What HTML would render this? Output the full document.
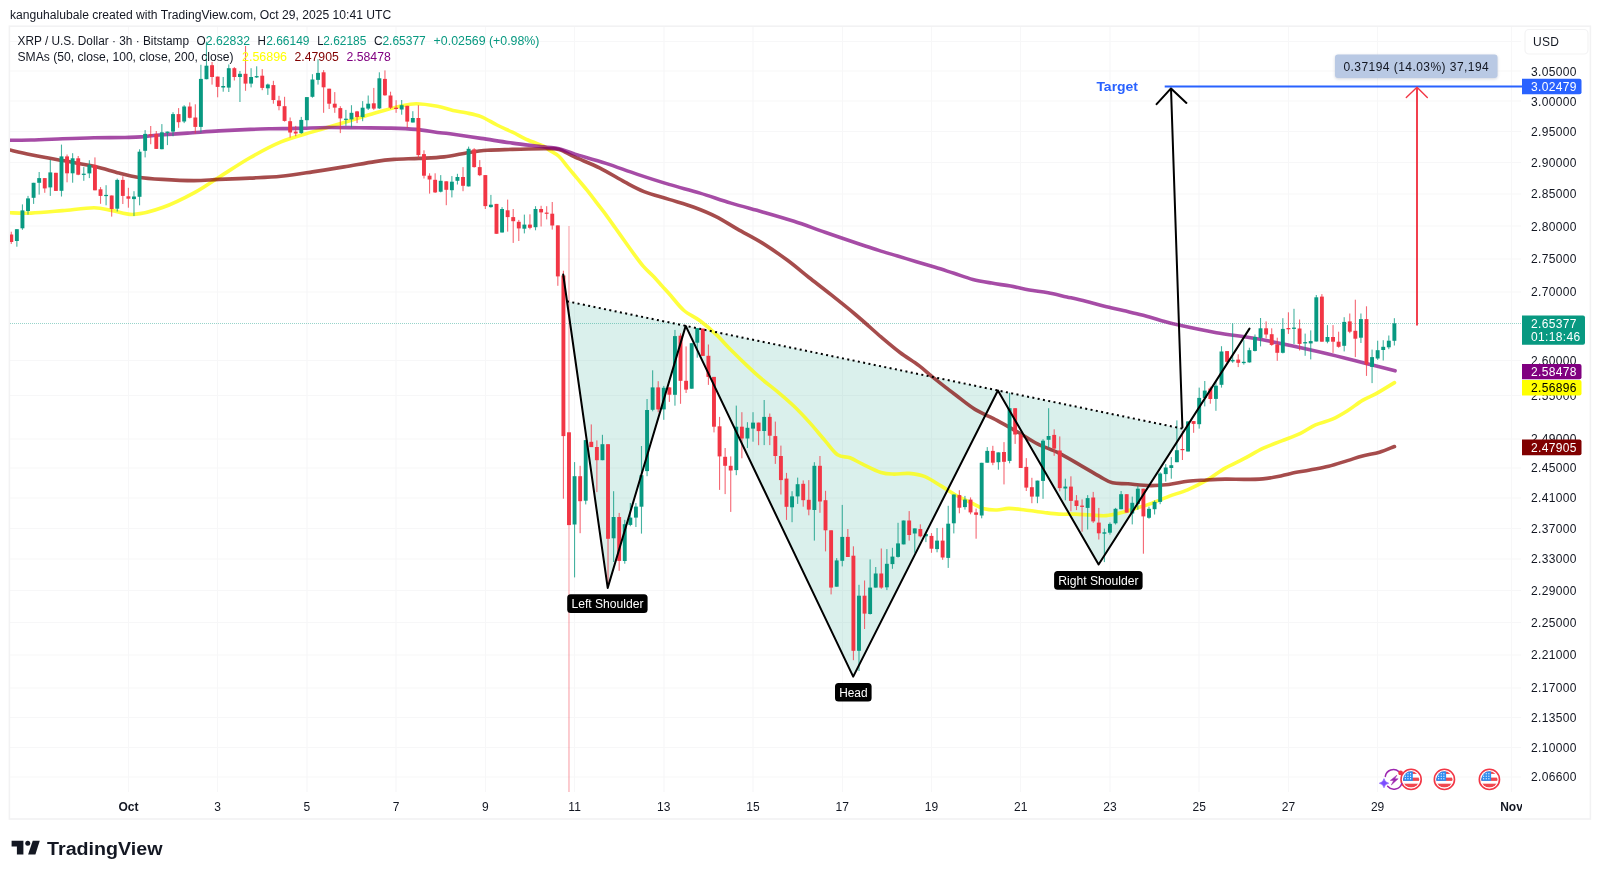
<!DOCTYPE html>
<html><head><meta charset="utf-8"><title>XRP / U.S. Dollar</title>
<style>
html,body{margin:0;padding:0;background:#fff;}
body{width:1600px;height:877px;overflow:hidden;position:relative;font-family:"Liberation Sans",sans-serif;}
svg{position:absolute;left:0;top:0;will-change:transform;}
text{font-family:"Liberation Sans",sans-serif;}
</style></head><body>
<svg width="1600" height="877" viewBox="0 0 1600 877">

<g stroke="#f7f7f8" stroke-width="1.2">
<line x1="10" y1="41.5" x2="1521" y2="41.5"/>
<line x1="10" y1="71.0" x2="1521" y2="71.0"/>
<line x1="10" y1="101.0" x2="1521" y2="101.0"/>
<line x1="10" y1="131.5" x2="1521" y2="131.5"/>
<line x1="10" y1="162.5" x2="1521" y2="162.5"/>
<line x1="10" y1="194.0" x2="1521" y2="194.0"/>
<line x1="10" y1="226.0" x2="1521" y2="226.0"/>
<line x1="10" y1="259.0" x2="1521" y2="259.0"/>
<line x1="10" y1="292.0" x2="1521" y2="292.0"/>
<line x1="10" y1="360.5" x2="1521" y2="360.5"/>
<line x1="10" y1="395.5" x2="1521" y2="395.5"/>
<line x1="10" y1="439.0" x2="1521" y2="439.0"/>
<line x1="10" y1="468.0" x2="1521" y2="468.0"/>
<line x1="10" y1="498.0" x2="1521" y2="498.0"/>
<line x1="10" y1="528.5" x2="1521" y2="528.5"/>
<line x1="10" y1="559.0" x2="1521" y2="559.0"/>
<line x1="10" y1="590.5" x2="1521" y2="590.5"/>
<line x1="10" y1="622.5" x2="1521" y2="622.5"/>
<line x1="10" y1="655.0" x2="1521" y2="655.0"/>
<line x1="10" y1="688.0" x2="1521" y2="688.0"/>
<line x1="10" y1="717.5" x2="1521" y2="717.5"/>
<line x1="10" y1="747.5" x2="1521" y2="747.5"/>
<line x1="10" y1="777.0" x2="1521" y2="777.0"/>
<line x1="128.5" y1="27" x2="128.5" y2="792"/>
<line x1="217.5" y1="27" x2="217.5" y2="792"/>
<line x1="307.0" y1="27" x2="307.0" y2="792"/>
<line x1="396.0" y1="27" x2="396.0" y2="792"/>
<line x1="485.5" y1="27" x2="485.5" y2="792"/>
<line x1="574.5" y1="27" x2="574.5" y2="792"/>
<line x1="664.0" y1="27" x2="664.0" y2="792"/>
<line x1="753.0" y1="27" x2="753.0" y2="792"/>
<line x1="842.5" y1="27" x2="842.5" y2="792"/>
<line x1="931.5" y1="27" x2="931.5" y2="792"/>
<line x1="1020.5" y1="27" x2="1020.5" y2="792"/>
<line x1="1110.0" y1="27" x2="1110.0" y2="792"/>
<line x1="1199.0" y1="27" x2="1199.0" y2="792"/>
<line x1="1288.5" y1="27" x2="1288.5" y2="792"/>
<line x1="1377.5" y1="27" x2="1377.5" y2="792"/>
<line x1="1511.5" y1="27" x2="1511.5" y2="792"/>
</g>
<rect x="9.4" y="26.2" width="1581" height="792.8" fill="none" stroke="#f2f2f3" stroke-width="1.6"/>
<polygon points="567.0,301.3 607.7,587.9 685.7,325.9 853.2,676.6 997.9,390.5 1098.6,564.5 1185.1,429.2" fill="#089981" fill-opacity="0.15"/>
<line x1="10" y1="323.5" x2="1521" y2="323.5" stroke="#089981" stroke-opacity="0.42" stroke-width="1" stroke-dasharray="1 1"/>
<clipPath id="plot"><rect x="10" y="27" width="1512" height="765"/></clipPath>
<path d="M10.0,212.8C13.5,212.9 22.2,213.5 31.0,213.1C39.8,212.7 52.0,211.5 62.5,210.6C73.0,209.7 85.7,207.8 94.0,207.8C102.3,207.8 105.8,209.5 112.5,210.6C119.2,211.7 125.7,214.9 134.0,214.4C142.3,213.9 152.5,211.1 162.5,207.5C172.5,203.9 184.6,197.9 194.0,192.8C203.4,187.8 209.7,183.0 219.0,177.2C228.3,171.4 239.7,163.7 250.0,157.8C260.3,151.9 270.6,146.2 281.0,141.9C291.4,137.6 302.0,135.1 312.5,131.9C323.0,128.7 333.6,125.6 344.0,122.5C354.4,119.4 365.7,115.8 375.0,113.1C384.3,110.4 393.2,107.8 400.0,106.3C406.8,104.8 409.8,103.8 416.0,103.8C422.2,103.8 431.3,105.2 437.5,106.3C443.7,107.4 448.2,109.4 453.0,110.5C457.8,111.6 461.3,111.8 466.0,112.8C470.7,113.8 475.8,114.6 481.0,116.6C486.2,118.6 491.8,122.4 497.0,125.0C502.2,127.6 507.3,129.7 512.5,132.2C517.7,134.7 522.8,137.7 528.0,140.0C533.2,142.3 540.4,144.6 544.0,146.3C547.6,148.0 546.9,148.5 549.4,150.2C551.9,151.9 555.7,153.4 558.8,156.3C561.9,159.2 565.1,163.8 568.2,167.6C571.3,171.4 574.5,175.1 577.6,178.9C580.7,182.7 583.9,186.3 587.0,190.2C590.1,194.1 593.3,198.3 596.4,202.4C599.5,206.5 602.7,210.4 605.8,214.6C608.9,218.8 612.1,223.4 615.2,227.8C618.3,232.2 621.5,236.6 624.6,241.0C627.7,245.4 630.9,249.9 634.0,254.1C637.1,258.3 640.3,262.8 643.4,266.4C646.5,270.0 649.7,272.5 652.8,275.8C655.9,279.1 659.2,282.8 662.2,286.1C665.2,289.4 667.1,291.4 670.7,295.5C674.3,299.6 679.1,306.3 684.0,310.5C688.9,314.7 694.7,316.8 700.0,320.8C705.3,324.8 710.8,329.5 716.0,334.4C721.2,339.3 725.8,344.8 731.0,350.0C736.2,355.2 741.8,360.7 747.0,365.6C752.2,370.6 757.3,375.3 762.5,379.7C767.7,384.1 772.8,387.8 778.0,392.2C783.2,396.6 788.8,401.4 794.0,406.3C799.2,411.2 803.8,416.2 809.0,421.9C814.2,427.6 820.2,435.1 825.0,440.6C829.8,446.1 833.3,451.8 837.5,454.7C841.7,457.6 845.8,456.2 850.0,457.8C854.2,459.4 857.3,461.7 862.5,464.1C867.7,466.6 875.8,470.8 881.0,472.5C886.2,474.2 889.3,474.0 894.0,474.1C898.7,474.2 903.8,473.0 909.0,473.4C914.2,473.8 919.7,474.5 925.0,476.6C930.3,478.7 935.8,482.8 941.0,485.9C946.2,489.0 950.8,492.4 956.0,495.3C961.2,498.2 967.3,500.9 972.0,503.1C976.7,505.4 979.8,507.7 984.0,508.8C988.2,509.9 992.8,510.1 997.0,510.0C1001.2,509.9 1004.3,508.4 1009.0,508.4C1013.7,508.4 1019.2,509.3 1025.0,510.0C1030.8,510.7 1038.3,511.8 1044.0,512.5C1049.7,513.2 1053.8,513.8 1059.0,514.1C1064.2,514.4 1069.7,514.0 1075.0,514.1C1080.3,514.2 1085.8,514.8 1091.0,515.0C1096.2,515.2 1100.8,516.0 1106.0,515.6C1111.2,515.2 1116.8,513.8 1122.0,512.5C1127.2,511.2 1132.8,509.2 1137.5,507.8C1142.2,506.4 1144.8,505.8 1150.0,503.9C1155.2,502.0 1162.5,498.8 1168.8,496.4C1175.1,494.0 1181.3,492.5 1187.6,489.8C1193.9,487.1 1200.1,484.0 1206.4,480.4C1212.7,476.8 1218.9,471.7 1225.2,468.1C1231.5,464.5 1237.7,462.0 1244.0,458.7C1250.3,455.4 1256.5,451.4 1262.8,448.4C1269.1,445.4 1275.4,443.4 1281.7,440.9C1288.0,438.4 1294.9,436.0 1300.5,433.3C1306.1,430.6 1310.2,427.2 1315.5,424.9C1320.8,422.5 1327.1,421.5 1332.4,419.2C1337.7,416.9 1342.5,413.9 1347.5,410.8C1352.5,407.7 1357.8,403.2 1362.5,400.4C1367.2,397.6 1370.4,396.9 1375.7,393.9C1381.0,390.9 1391.4,384.5 1394.5,382.6" fill="none" stroke="#ffff00" stroke-opacity="0.76" stroke-width="3.6" stroke-linecap="round" stroke-linejoin="round" clip-path="url(#plot)"/>
<path d="M10.0,150.0C13.5,150.8 22.2,152.9 31.0,154.7C39.8,156.5 52.0,158.7 62.5,160.6C73.0,162.5 84.6,164.2 94.0,166.3C103.4,168.4 111.8,171.3 119.0,173.1C126.2,174.9 130.2,176.1 137.5,177.2C144.8,178.2 153.1,178.8 162.5,179.4C171.9,180.0 184.6,180.6 194.0,180.6C203.4,180.6 209.7,179.8 219.0,179.4C228.3,179.0 239.7,178.6 250.0,178.1C260.3,177.6 270.6,177.3 281.0,176.3C291.4,175.3 302.0,173.5 312.5,171.9C323.0,170.3 333.6,168.6 344.0,166.9C354.4,165.2 366.7,162.8 375.0,161.6C383.3,160.3 386.7,159.9 394.0,159.4C401.3,158.9 410.7,158.8 419.0,158.4C427.3,158.0 435.7,157.9 444.0,156.9C452.3,155.9 461.8,153.6 469.0,152.5C476.2,151.4 480.2,150.8 487.5,150.3C494.8,149.8 503.1,149.7 512.5,149.4C521.9,149.2 536.2,148.8 544.0,148.8C551.8,148.8 553.8,148.0 559.0,149.4C564.2,150.8 568.2,154.1 575.0,157.2C581.8,160.3 591.7,163.9 600.0,168.1C608.3,172.3 617.7,178.3 625.0,182.2C632.3,186.1 636.7,188.7 644.0,191.6C651.3,194.5 660.7,196.8 669.0,199.4C677.3,202.0 686.2,204.3 694.0,207.2C701.8,210.1 708.8,212.9 716.0,216.6C723.2,220.2 729.8,224.7 737.5,229.1C745.2,233.5 754.2,237.9 762.5,243.1C770.8,248.3 779.8,254.6 787.5,260.3C795.2,266.0 801.8,271.8 809.0,277.5C816.2,283.2 823.2,288.4 831.0,294.7C838.8,300.9 847.7,308.0 856.0,315.0C864.3,322.0 873.7,330.6 881.0,336.9C888.3,343.1 893.7,347.7 900.0,352.5C906.3,357.3 913.3,361.3 919.0,365.6C924.7,369.9 927.8,373.2 934.0,378.1C940.2,383.1 949.2,390.1 956.0,395.3C962.8,400.5 968.2,405.2 975.0,409.4C981.8,413.6 989.7,416.4 997.0,420.3C1004.3,424.2 1012.2,428.9 1019.0,432.8C1025.8,436.7 1030.8,440.4 1037.5,443.8C1044.2,447.2 1051.8,449.5 1059.0,453.1C1066.2,456.7 1074.2,461.7 1081.0,465.6C1087.8,469.5 1094.8,473.7 1100.0,476.6C1105.2,479.5 1107.8,481.6 1112.5,482.8C1117.2,484.0 1121.8,483.3 1128.0,483.8C1134.2,484.3 1143.2,485.5 1150.0,485.6C1156.8,485.7 1162.5,485.2 1168.8,484.5C1175.1,483.8 1181.3,482.1 1187.6,481.3C1193.9,480.6 1200.1,480.4 1206.4,480.0C1212.7,479.6 1218.9,479.2 1225.2,479.1C1231.5,479.0 1237.7,479.4 1244.0,479.4C1250.3,479.4 1257.1,479.4 1262.8,478.9C1268.5,478.4 1273.2,477.5 1277.9,476.6C1282.6,475.7 1285.7,474.5 1291.0,473.4C1296.3,472.3 1303.6,471.2 1309.9,470.0C1316.2,468.8 1322.4,467.9 1328.7,466.3C1335.0,464.7 1341.9,462.3 1347.5,460.6C1353.1,458.9 1357.2,457.3 1362.5,455.9C1367.8,454.5 1374.2,453.8 1379.5,452.2C1384.8,450.6 1392.0,447.4 1394.5,446.5" fill="none" stroke="#800000" stroke-opacity="0.7" stroke-width="3.6" stroke-linecap="round" stroke-linejoin="round" clip-path="url(#plot)"/>
<path d="M10.0,140.3C13.5,140.2 22.2,140.2 31.0,140.0C39.8,139.8 52.0,139.2 62.5,138.8C73.0,138.4 83.6,138.0 94.0,137.8C104.4,137.6 117.2,137.7 125.0,137.5C132.8,137.3 135.8,137.3 141.0,136.9C146.2,136.5 148.2,135.9 156.0,135.3C163.8,134.7 177.0,133.8 187.5,133.1C198.0,132.4 208.6,131.5 219.0,130.9C229.4,130.3 241.7,129.8 250.0,129.4C258.3,129.1 261.2,129.0 269.0,128.8C276.8,128.6 287.2,128.6 297.0,128.4C306.8,128.2 317.7,127.6 328.0,127.5C338.3,127.4 348.5,127.7 359.0,127.8C369.5,127.9 381.5,127.8 391.0,128.1C400.5,128.4 408.2,128.7 416.0,129.4C423.8,130.1 431.8,131.8 437.5,132.5C443.2,133.2 442.8,132.8 450.0,133.8C457.2,134.8 470.6,136.9 481.0,138.4C491.4,139.9 502.0,141.7 512.5,143.1C523.0,144.5 536.2,145.9 544.0,146.9C551.8,147.9 553.8,147.6 559.0,148.8C564.2,150.0 567.2,151.7 575.0,154.1C582.8,156.5 595.6,160.0 606.0,163.4C616.4,166.8 627.0,170.9 637.5,174.4C648.0,177.9 658.6,181.3 669.0,184.4C679.4,187.5 689.7,190.0 700.0,193.1C710.3,196.2 720.6,200.0 731.0,203.1C741.4,206.2 752.0,208.9 762.5,211.9C773.0,214.9 783.6,217.9 794.0,221.3C804.4,224.7 814.0,228.4 825.0,232.2C836.0,236.0 851.0,241.2 860.0,244.2C869.0,247.2 872.5,248.4 878.8,250.4C885.1,252.4 891.3,254.1 897.6,256.0C903.9,257.9 910.1,259.8 916.4,261.7C922.7,263.6 928.9,265.4 935.2,267.3C941.5,269.2 947.7,271.3 954.0,273.3C960.3,275.3 966.5,277.8 972.8,279.4C979.1,281.0 985.4,282.0 991.7,283.1C998.0,284.2 1004.2,285.0 1010.5,286.1C1016.8,287.2 1023.0,288.8 1029.3,289.9C1035.6,291.0 1041.8,291.5 1048.1,292.7C1054.4,293.9 1060.6,295.5 1066.9,296.9C1073.2,298.3 1079.4,299.6 1085.7,301.2C1092.0,302.8 1098.2,304.7 1104.5,306.3C1110.8,307.9 1117.0,309.1 1123.3,310.6C1129.6,312.1 1136.0,313.5 1142.1,315.1C1148.2,316.7 1153.9,318.5 1160.0,320.2C1166.1,321.9 1169.4,323.0 1178.8,325.1C1188.2,327.2 1203.9,330.5 1216.4,332.7C1228.9,334.9 1241.5,336.1 1254.0,338.3C1266.5,340.5 1279.2,343.1 1291.7,345.8C1304.2,348.5 1316.8,351.3 1329.3,354.3C1341.8,357.3 1355.9,360.9 1366.9,363.7C1377.9,366.4 1390.4,369.6 1395.1,370.8" fill="none" stroke="#800080" stroke-opacity="0.7" stroke-width="3.6" stroke-linecap="round" stroke-linejoin="round" clip-path="url(#plot)"/>
<g clip-path="url(#plot)">
<rect x="10.73" y="231.7" width="1.1" height="12.2" fill="#f23645" opacity="0.75"/>
<rect x="9.33" y="234.5" width="3.9" height="7.5" fill="#f23645"/>
<rect x="16.31" y="229.2" width="1.1" height="17.5" fill="#089981" opacity="0.75"/>
<rect x="14.91" y="229.2" width="3.9" height="11.8" fill="#089981"/>
<rect x="21.89" y="204.4" width="1.1" height="25.4" fill="#089981" opacity="0.75"/>
<rect x="20.49" y="210.4" width="3.9" height="17.9" fill="#089981"/>
<rect x="27.46" y="195.9" width="1.1" height="18.8" fill="#089981" opacity="0.75"/>
<rect x="26.06" y="198.4" width="3.9" height="12.6" fill="#089981"/>
<rect x="33.04" y="182.8" width="1.1" height="21.1" fill="#089981" opacity="0.75"/>
<rect x="31.64" y="182.8" width="3.9" height="15.0" fill="#089981"/>
<rect x="38.62" y="172.0" width="1.1" height="22.6" fill="#089981" opacity="0.75"/>
<rect x="37.22" y="178.1" width="3.9" height="4.7" fill="#089981"/>
<rect x="44.20" y="178.1" width="1.1" height="14.7" fill="#f23645" opacity="0.75"/>
<rect x="42.80" y="178.1" width="3.9" height="10.3" fill="#f23645"/>
<rect x="49.77" y="159.8" width="1.1" height="36.1" fill="#089981" opacity="0.75"/>
<rect x="48.37" y="172.4" width="3.9" height="15.0" fill="#089981"/>
<rect x="55.35" y="172.8" width="1.1" height="18.1" fill="#f23645" opacity="0.75"/>
<rect x="53.95" y="172.8" width="3.9" height="18.1" fill="#f23645"/>
<rect x="60.93" y="144.6" width="1.1" height="51.9" fill="#089981" opacity="0.75"/>
<rect x="59.53" y="156.4" width="3.9" height="34.4" fill="#089981"/>
<rect x="66.50" y="154.5" width="1.1" height="27.8" fill="#f23645" opacity="0.75"/>
<rect x="65.10" y="156.4" width="3.9" height="16.9" fill="#f23645"/>
<rect x="72.08" y="153.2" width="1.1" height="29.5" fill="#089981" opacity="0.75"/>
<rect x="70.68" y="158.3" width="3.9" height="15.0" fill="#089981"/>
<rect x="77.66" y="156.0" width="1.1" height="19.2" fill="#f23645" opacity="0.75"/>
<rect x="76.26" y="158.3" width="3.9" height="16.4" fill="#f23645"/>
<rect x="83.23" y="167.1" width="1.1" height="13.7" fill="#089981" opacity="0.75"/>
<rect x="81.83" y="173.7" width="3.9" height="1.2" fill="#089981"/>
<rect x="88.81" y="160.2" width="1.1" height="17.9" fill="#089981" opacity="0.75"/>
<rect x="87.41" y="164.9" width="3.9" height="8.5" fill="#089981"/>
<rect x="94.39" y="157.4" width="1.1" height="32.9" fill="#f23645" opacity="0.75"/>
<rect x="92.99" y="164.9" width="3.9" height="25.4" fill="#f23645"/>
<rect x="99.97" y="187.1" width="1.1" height="16.7" fill="#f23645" opacity="0.75"/>
<rect x="98.57" y="189.3" width="3.9" height="6.6" fill="#f23645"/>
<rect x="105.54" y="185.2" width="1.1" height="20.1" fill="#089981" opacity="0.75"/>
<rect x="104.14" y="194.9" width="3.9" height="1.2" fill="#089981"/>
<rect x="111.12" y="195.5" width="1.1" height="21.1" fill="#f23645" opacity="0.75"/>
<rect x="109.72" y="195.5" width="3.9" height="13.5" fill="#f23645"/>
<rect x="116.70" y="178.6" width="1.1" height="32.9" fill="#089981" opacity="0.75"/>
<rect x="115.30" y="179.9" width="3.9" height="28.8" fill="#089981"/>
<rect x="122.27" y="176.2" width="1.1" height="27.8" fill="#f23645" opacity="0.75"/>
<rect x="120.87" y="179.9" width="3.9" height="16.0" fill="#f23645"/>
<rect x="127.85" y="187.8" width="1.1" height="19.9" fill="#f23645" opacity="0.75"/>
<rect x="126.45" y="196.3" width="3.9" height="2.4" fill="#f23645"/>
<rect x="133.43" y="191.2" width="1.1" height="24.8" fill="#089981" opacity="0.75"/>
<rect x="132.03" y="196.5" width="3.9" height="2.6" fill="#089981"/>
<rect x="139.00" y="149.3" width="1.1" height="56.0" fill="#089981" opacity="0.75"/>
<rect x="137.60" y="151.7" width="3.9" height="45.1" fill="#089981"/>
<rect x="144.58" y="130.1" width="1.1" height="27.3" fill="#089981" opacity="0.75"/>
<rect x="143.18" y="133.9" width="3.9" height="16.9" fill="#089981"/>
<rect x="150.16" y="126.0" width="1.1" height="18.2" fill="#f23645" opacity="0.75"/>
<rect x="148.76" y="134.4" width="3.9" height="1.3" fill="#f23645"/>
<rect x="155.73" y="131.0" width="1.1" height="17.9" fill="#f23645" opacity="0.75"/>
<rect x="154.34" y="133.9" width="3.9" height="15.0" fill="#f23645"/>
<rect x="161.31" y="124.1" width="1.1" height="25.2" fill="#089981" opacity="0.75"/>
<rect x="159.91" y="132.3" width="3.9" height="16.9" fill="#089981"/>
<rect x="166.89" y="131.6" width="1.1" height="13.5" fill="#089981" opacity="0.75"/>
<rect x="165.49" y="131.6" width="3.9" height="1.3" fill="#089981"/>
<rect x="172.47" y="112.2" width="1.1" height="24.1" fill="#089981" opacity="0.75"/>
<rect x="171.07" y="114.1" width="3.9" height="17.5" fill="#089981"/>
<rect x="178.04" y="108.1" width="1.1" height="19.7" fill="#f23645" opacity="0.75"/>
<rect x="176.64" y="114.1" width="3.9" height="8.1" fill="#f23645"/>
<rect x="183.62" y="105.2" width="1.1" height="17.9" fill="#089981" opacity="0.75"/>
<rect x="182.22" y="106.5" width="3.9" height="15.0" fill="#089981"/>
<rect x="189.20" y="102.4" width="1.1" height="16.0" fill="#f23645" opacity="0.75"/>
<rect x="187.80" y="106.5" width="3.9" height="11.3" fill="#f23645"/>
<rect x="194.77" y="104.3" width="1.1" height="29.2" fill="#f23645" opacity="0.75"/>
<rect x="193.37" y="117.5" width="3.9" height="9.4" fill="#f23645"/>
<rect x="200.35" y="64.8" width="1.1" height="67.7" fill="#089981" opacity="0.75"/>
<rect x="198.95" y="78.9" width="3.9" height="48.0" fill="#089981"/>
<rect x="205.93" y="41.7" width="1.1" height="37.6" fill="#089981" opacity="0.75"/>
<rect x="204.53" y="65.7" width="3.9" height="13.5" fill="#089981"/>
<rect x="211.50" y="62.0" width="1.1" height="22.6" fill="#f23645" opacity="0.75"/>
<rect x="210.11" y="65.2" width="3.9" height="11.8" fill="#f23645"/>
<rect x="217.08" y="76.6" width="1.1" height="20.7" fill="#f23645" opacity="0.75"/>
<rect x="215.68" y="76.6" width="3.9" height="10.3" fill="#f23645"/>
<rect x="222.66" y="77.0" width="1.1" height="14.7" fill="#089981" opacity="0.75"/>
<rect x="221.26" y="86.0" width="3.9" height="1.5" fill="#089981"/>
<rect x="228.24" y="64.4" width="1.1" height="27.6" fill="#089981" opacity="0.75"/>
<rect x="226.84" y="68.2" width="3.9" height="19.4" fill="#089981"/>
<rect x="233.81" y="67.1" width="1.1" height="13.4" fill="#f23645" opacity="0.75"/>
<rect x="232.41" y="68.2" width="3.9" height="8.8" fill="#f23645"/>
<rect x="239.39" y="71.0" width="1.1" height="31.0" fill="#089981" opacity="0.75"/>
<rect x="237.99" y="73.8" width="3.9" height="3.2" fill="#089981"/>
<rect x="244.97" y="46.0" width="1.1" height="44.8" fill="#f23645" opacity="0.75"/>
<rect x="243.57" y="73.8" width="3.9" height="9.8" fill="#f23645"/>
<rect x="250.54" y="68.2" width="1.1" height="19.2" fill="#089981" opacity="0.75"/>
<rect x="249.14" y="77.0" width="3.9" height="6.6" fill="#089981"/>
<rect x="256.12" y="66.3" width="1.1" height="11.7" fill="#089981" opacity="0.75"/>
<rect x="254.72" y="76.1" width="3.9" height="1.3" fill="#089981"/>
<rect x="261.70" y="69.1" width="1.1" height="21.1" fill="#f23645" opacity="0.75"/>
<rect x="260.30" y="75.7" width="3.9" height="12.2" fill="#f23645"/>
<rect x="267.28" y="83.6" width="1.1" height="11.3" fill="#089981" opacity="0.75"/>
<rect x="265.88" y="84.5" width="3.9" height="3.8" fill="#089981"/>
<rect x="272.85" y="80.8" width="1.1" height="22.9" fill="#f23645" opacity="0.75"/>
<rect x="271.45" y="85.1" width="3.9" height="14.9" fill="#f23645"/>
<rect x="278.43" y="95.8" width="1.1" height="14.5" fill="#f23645" opacity="0.75"/>
<rect x="277.03" y="100.5" width="3.9" height="5.6" fill="#f23645"/>
<rect x="284.01" y="96.8" width="1.1" height="24.8" fill="#f23645" opacity="0.75"/>
<rect x="282.61" y="106.2" width="3.9" height="14.7" fill="#f23645"/>
<rect x="289.58" y="117.5" width="1.1" height="20.1" fill="#f23645" opacity="0.75"/>
<rect x="288.18" y="121.2" width="3.9" height="11.3" fill="#f23645"/>
<rect x="295.16" y="125.9" width="1.1" height="10.3" fill="#f23645" opacity="0.75"/>
<rect x="293.76" y="131.6" width="3.9" height="1.9" fill="#f23645"/>
<rect x="300.74" y="116.9" width="1.1" height="16.9" fill="#089981" opacity="0.75"/>
<rect x="299.34" y="119.9" width="3.9" height="13.2" fill="#089981"/>
<rect x="306.31" y="97.1" width="1.1" height="29.7" fill="#089981" opacity="0.75"/>
<rect x="304.91" y="97.1" width="3.9" height="23.1" fill="#089981"/>
<rect x="311.89" y="74.2" width="1.1" height="23.5" fill="#089981" opacity="0.75"/>
<rect x="310.49" y="79.5" width="3.9" height="17.3" fill="#089981"/>
<rect x="317.47" y="59.2" width="1.1" height="25.4" fill="#089981" opacity="0.75"/>
<rect x="316.07" y="72.9" width="3.9" height="7.0" fill="#089981"/>
<rect x="323.05" y="70.1" width="1.1" height="42.7" fill="#f23645" opacity="0.75"/>
<rect x="321.65" y="72.3" width="3.9" height="15.0" fill="#f23645"/>
<rect x="328.62" y="88.7" width="1.1" height="20.3" fill="#f23645" opacity="0.75"/>
<rect x="327.22" y="88.7" width="3.9" height="15.0" fill="#f23645"/>
<rect x="334.20" y="92.1" width="1.1" height="20.7" fill="#f23645" opacity="0.75"/>
<rect x="332.80" y="103.7" width="3.9" height="3.9" fill="#f23645"/>
<rect x="339.78" y="106.2" width="1.1" height="26.9" fill="#f23645" opacity="0.75"/>
<rect x="338.38" y="108.1" width="3.9" height="10.3" fill="#f23645"/>
<rect x="345.35" y="109.9" width="1.1" height="16.0" fill="#089981" opacity="0.75"/>
<rect x="343.95" y="118.7" width="3.9" height="1.2" fill="#089981"/>
<rect x="350.93" y="105.2" width="1.1" height="22.2" fill="#089981" opacity="0.75"/>
<rect x="349.53" y="112.8" width="3.9" height="6.6" fill="#089981"/>
<rect x="356.51" y="110.9" width="1.1" height="12.2" fill="#f23645" opacity="0.75"/>
<rect x="355.11" y="111.4" width="3.9" height="5.6" fill="#f23645"/>
<rect x="362.08" y="101.1" width="1.1" height="20.1" fill="#089981" opacity="0.75"/>
<rect x="360.68" y="107.7" width="3.9" height="9.4" fill="#089981"/>
<rect x="367.66" y="95.5" width="1.1" height="14.5" fill="#089981" opacity="0.75"/>
<rect x="366.26" y="103.7" width="3.9" height="4.9" fill="#089981"/>
<rect x="373.24" y="87.9" width="1.1" height="22.0" fill="#f23645" opacity="0.75"/>
<rect x="371.84" y="103.3" width="3.9" height="5.3" fill="#f23645"/>
<rect x="378.81" y="72.3" width="1.1" height="36.7" fill="#089981" opacity="0.75"/>
<rect x="377.42" y="78.3" width="3.9" height="30.1" fill="#089981"/>
<rect x="384.39" y="70.4" width="1.1" height="25.4" fill="#f23645" opacity="0.75"/>
<rect x="382.99" y="78.9" width="3.9" height="16.4" fill="#f23645"/>
<rect x="389.97" y="91.7" width="1.1" height="17.3" fill="#f23645" opacity="0.75"/>
<rect x="388.57" y="95.5" width="3.9" height="12.2" fill="#f23645"/>
<rect x="395.55" y="100.2" width="1.1" height="12.6" fill="#f23645" opacity="0.75"/>
<rect x="394.15" y="107.7" width="3.9" height="1.3" fill="#f23645"/>
<rect x="401.12" y="100.0" width="1.1" height="14.7" fill="#089981" opacity="0.75"/>
<rect x="399.72" y="105.2" width="3.9" height="4.3" fill="#089981"/>
<rect x="406.70" y="105.8" width="1.1" height="22.0" fill="#f23645" opacity="0.75"/>
<rect x="405.30" y="105.8" width="3.9" height="15.8" fill="#f23645"/>
<rect x="412.28" y="111.2" width="1.1" height="11.3" fill="#089981" opacity="0.75"/>
<rect x="410.88" y="118.0" width="3.9" height="4.5" fill="#089981"/>
<rect x="417.85" y="105.2" width="1.1" height="52.7" fill="#f23645" opacity="0.75"/>
<rect x="416.45" y="118.0" width="3.9" height="37.1" fill="#f23645"/>
<rect x="423.43" y="150.3" width="1.1" height="28.2" fill="#f23645" opacity="0.75"/>
<rect x="422.03" y="154.1" width="3.9" height="21.6" fill="#f23645"/>
<rect x="429.01" y="173.3" width="1.1" height="20.3" fill="#f23645" opacity="0.75"/>
<rect x="427.61" y="175.7" width="3.9" height="3.8" fill="#f23645"/>
<rect x="434.58" y="173.3" width="1.1" height="19.7" fill="#f23645" opacity="0.75"/>
<rect x="433.19" y="179.8" width="3.9" height="12.6" fill="#f23645"/>
<rect x="440.16" y="175.1" width="1.1" height="17.3" fill="#089981" opacity="0.75"/>
<rect x="438.76" y="180.8" width="3.9" height="10.9" fill="#089981"/>
<rect x="445.74" y="181.3" width="1.1" height="23.9" fill="#f23645" opacity="0.75"/>
<rect x="444.34" y="181.3" width="3.9" height="8.5" fill="#f23645"/>
<rect x="451.32" y="176.1" width="1.1" height="21.3" fill="#089981" opacity="0.75"/>
<rect x="449.92" y="181.7" width="3.9" height="8.5" fill="#089981"/>
<rect x="456.89" y="173.8" width="1.1" height="10.7" fill="#089981" opacity="0.75"/>
<rect x="455.49" y="177.0" width="3.9" height="3.8" fill="#089981"/>
<rect x="462.47" y="167.1" width="1.1" height="24.1" fill="#f23645" opacity="0.75"/>
<rect x="461.07" y="177.0" width="3.9" height="8.8" fill="#f23645"/>
<rect x="468.05" y="146.6" width="1.1" height="39.9" fill="#089981" opacity="0.75"/>
<rect x="466.65" y="148.8" width="3.9" height="37.6" fill="#089981"/>
<rect x="473.62" y="148.2" width="1.1" height="19.4" fill="#f23645" opacity="0.75"/>
<rect x="472.22" y="149.4" width="3.9" height="17.7" fill="#f23645"/>
<rect x="479.20" y="160.1" width="1.1" height="16.0" fill="#f23645" opacity="0.75"/>
<rect x="477.80" y="167.1" width="3.9" height="8.1" fill="#f23645"/>
<rect x="484.78" y="175.1" width="1.1" height="33.9" fill="#f23645" opacity="0.75"/>
<rect x="483.38" y="175.1" width="3.9" height="31.0" fill="#f23645"/>
<rect x="490.35" y="194.9" width="1.1" height="12.8" fill="#089981" opacity="0.75"/>
<rect x="488.95" y="204.7" width="3.9" height="2.4" fill="#089981"/>
<rect x="495.93" y="203.9" width="1.1" height="29.9" fill="#f23645" opacity="0.75"/>
<rect x="494.53" y="203.9" width="3.9" height="29.9" fill="#f23645"/>
<rect x="501.51" y="207.1" width="1.1" height="25.4" fill="#089981" opacity="0.75"/>
<rect x="500.11" y="209.0" width="3.9" height="23.5" fill="#089981"/>
<rect x="507.09" y="199.6" width="1.1" height="32.0" fill="#f23645" opacity="0.75"/>
<rect x="505.69" y="210.3" width="3.9" height="6.8" fill="#f23645"/>
<rect x="512.66" y="209.0" width="1.1" height="33.9" fill="#f23645" opacity="0.75"/>
<rect x="511.26" y="217.1" width="3.9" height="4.1" fill="#f23645"/>
<rect x="518.24" y="219.9" width="1.1" height="21.1" fill="#f23645" opacity="0.75"/>
<rect x="516.84" y="221.8" width="3.9" height="6.6" fill="#f23645"/>
<rect x="523.82" y="214.6" width="1.1" height="18.8" fill="#089981" opacity="0.75"/>
<rect x="522.42" y="224.6" width="3.9" height="4.1" fill="#089981"/>
<rect x="529.39" y="214.3" width="1.1" height="15.0" fill="#f23645" opacity="0.75"/>
<rect x="527.99" y="224.6" width="3.9" height="3.2" fill="#f23645"/>
<rect x="534.97" y="206.2" width="1.1" height="24.1" fill="#089981" opacity="0.75"/>
<rect x="533.57" y="209.0" width="3.9" height="18.2" fill="#089981"/>
<rect x="540.55" y="205.8" width="1.1" height="20.7" fill="#f23645" opacity="0.75"/>
<rect x="539.15" y="209.0" width="3.9" height="3.4" fill="#f23645"/>
<rect x="546.12" y="206.2" width="1.1" height="13.2" fill="#f23645" opacity="0.75"/>
<rect x="544.72" y="212.6" width="3.9" height="1.2" fill="#f23645"/>
<rect x="551.70" y="202.0" width="1.1" height="27.6" fill="#f23645" opacity="0.75"/>
<rect x="550.30" y="213.7" width="3.9" height="11.8" fill="#f23645"/>
<rect x="557.28" y="225.4" width="1.1" height="60.4" fill="#f23645" opacity="0.75"/>
<rect x="555.88" y="225.4" width="3.9" height="51.0" fill="#f23645"/>
<rect x="562.86" y="270.7" width="1.1" height="228.0" fill="#f23645" opacity="0.75"/>
<rect x="561.46" y="275.5" width="3.9" height="160.6" fill="#f23645"/>
<rect x="568.43" y="226.0" width="1.1" height="566.0" fill="#f23645" opacity="0.45"/>
<rect x="567.03" y="432.3" width="3.9" height="92.8" fill="#f23645"/>
<rect x="574.01" y="462.1" width="1.1" height="115.3" fill="#089981" opacity="0.75"/>
<rect x="572.61" y="476.2" width="3.9" height="48.3" fill="#089981"/>
<rect x="579.59" y="465.8" width="1.1" height="67.4" fill="#f23645" opacity="0.75"/>
<rect x="578.19" y="476.2" width="3.9" height="25.0" fill="#f23645"/>
<rect x="585.16" y="440.1" width="1.1" height="64.3" fill="#089981" opacity="0.75"/>
<rect x="583.76" y="440.1" width="3.9" height="60.6" fill="#089981"/>
<rect x="590.74" y="424.4" width="1.1" height="22.6" fill="#f23645" opacity="0.75"/>
<rect x="589.34" y="441.8" width="3.9" height="5.3" fill="#f23645"/>
<rect x="596.32" y="440.4" width="1.1" height="51.7" fill="#f23645" opacity="0.75"/>
<rect x="594.92" y="447.0" width="3.9" height="13.2" fill="#f23645"/>
<rect x="601.90" y="434.8" width="1.1" height="25.4" fill="#089981" opacity="0.75"/>
<rect x="600.50" y="444.2" width="3.9" height="16.0" fill="#089981"/>
<rect x="607.47" y="444.2" width="1.1" height="142.8" fill="#f23645" opacity="0.75"/>
<rect x="606.07" y="444.2" width="3.9" height="94.6" fill="#f23645"/>
<rect x="613.05" y="491.2" width="1.1" height="70.8" fill="#089981" opacity="0.75"/>
<rect x="611.65" y="517.0" width="3.9" height="21.3" fill="#089981"/>
<rect x="618.63" y="512.9" width="1.1" height="57.9" fill="#f23645" opacity="0.75"/>
<rect x="617.23" y="517.0" width="3.9" height="43.9" fill="#f23645"/>
<rect x="624.20" y="519.8" width="1.1" height="43.9" fill="#089981" opacity="0.75"/>
<rect x="622.80" y="524.2" width="3.9" height="36.8" fill="#089981"/>
<rect x="629.78" y="503.0" width="1.1" height="23.2" fill="#089981" opacity="0.75"/>
<rect x="628.38" y="517.6" width="3.9" height="7.3" fill="#089981"/>
<rect x="635.36" y="503.0" width="1.1" height="24.0" fill="#089981" opacity="0.75"/>
<rect x="633.96" y="506.6" width="3.9" height="11.0" fill="#089981"/>
<rect x="640.93" y="446.0" width="1.1" height="87.6" fill="#089981" opacity="0.75"/>
<rect x="639.53" y="475.2" width="3.9" height="31.5" fill="#089981"/>
<rect x="646.51" y="399.0" width="1.1" height="77.2" fill="#089981" opacity="0.75"/>
<rect x="645.11" y="410.0" width="3.9" height="61.1" fill="#089981"/>
<rect x="652.09" y="370.3" width="1.1" height="41.0" fill="#089981" opacity="0.75"/>
<rect x="650.69" y="387.4" width="3.9" height="22.4" fill="#089981"/>
<rect x="657.66" y="381.2" width="1.1" height="31.0" fill="#f23645" opacity="0.75"/>
<rect x="656.26" y="387.4" width="3.9" height="22.0" fill="#f23645"/>
<rect x="663.24" y="385.9" width="1.1" height="33.9" fill="#089981" opacity="0.75"/>
<rect x="661.84" y="387.8" width="3.9" height="21.6" fill="#089981"/>
<rect x="668.82" y="387.4" width="1.1" height="14.5" fill="#f23645" opacity="0.75"/>
<rect x="667.42" y="387.4" width="3.9" height="7.3" fill="#f23645"/>
<rect x="674.40" y="329.9" width="1.1" height="75.8" fill="#089981" opacity="0.75"/>
<rect x="673.00" y="336.1" width="3.9" height="58.7" fill="#089981"/>
<rect x="679.97" y="333.3" width="1.1" height="70.5" fill="#f23645" opacity="0.75"/>
<rect x="678.57" y="335.7" width="3.9" height="45.1" fill="#f23645"/>
<rect x="685.55" y="346.4" width="1.1" height="46.6" fill="#f23645" opacity="0.75"/>
<rect x="684.15" y="380.8" width="3.9" height="8.8" fill="#f23645"/>
<rect x="691.13" y="343.2" width="1.1" height="45.5" fill="#089981" opacity="0.75"/>
<rect x="689.73" y="343.2" width="3.9" height="45.5" fill="#089981"/>
<rect x="696.70" y="328.2" width="1.1" height="29.5" fill="#089981" opacity="0.75"/>
<rect x="695.30" y="328.2" width="3.9" height="14.5" fill="#089981"/>
<rect x="702.28" y="328.6" width="1.1" height="27.3" fill="#f23645" opacity="0.75"/>
<rect x="700.88" y="328.6" width="3.9" height="27.3" fill="#f23645"/>
<rect x="707.86" y="344.5" width="1.1" height="40.4" fill="#f23645" opacity="0.75"/>
<rect x="706.46" y="355.8" width="3.9" height="21.1" fill="#f23645"/>
<rect x="713.44" y="376.9" width="1.1" height="55.5" fill="#f23645" opacity="0.75"/>
<rect x="712.03" y="376.9" width="3.9" height="49.8" fill="#f23645"/>
<rect x="719.01" y="416.9" width="1.1" height="73.0" fill="#f23645" opacity="0.75"/>
<rect x="717.61" y="426.3" width="3.9" height="30.1" fill="#f23645"/>
<rect x="724.59" y="448.0" width="1.1" height="46.1" fill="#f23645" opacity="0.75"/>
<rect x="723.19" y="456.8" width="3.9" height="9.0" fill="#f23645"/>
<rect x="730.17" y="456.4" width="1.1" height="55.5" fill="#f23645" opacity="0.75"/>
<rect x="728.77" y="465.8" width="3.9" height="4.7" fill="#f23645"/>
<rect x="735.74" y="405.6" width="1.1" height="69.6" fill="#089981" opacity="0.75"/>
<rect x="734.34" y="426.7" width="3.9" height="43.4" fill="#089981"/>
<rect x="741.32" y="412.2" width="1.1" height="46.1" fill="#f23645" opacity="0.75"/>
<rect x="739.92" y="426.7" width="3.9" height="11.8" fill="#f23645"/>
<rect x="746.90" y="422.2" width="1.1" height="25.8" fill="#089981" opacity="0.75"/>
<rect x="745.50" y="427.8" width="3.9" height="10.7" fill="#089981"/>
<rect x="752.47" y="412.2" width="1.1" height="29.5" fill="#089981" opacity="0.75"/>
<rect x="751.07" y="422.6" width="3.9" height="6.0" fill="#089981"/>
<rect x="758.05" y="422.6" width="1.1" height="22.6" fill="#f23645" opacity="0.75"/>
<rect x="756.65" y="422.6" width="3.9" height="8.5" fill="#f23645"/>
<rect x="763.63" y="400.0" width="1.1" height="45.1" fill="#089981" opacity="0.75"/>
<rect x="762.23" y="416.9" width="3.9" height="14.1" fill="#089981"/>
<rect x="769.21" y="413.5" width="1.1" height="31.6" fill="#f23645" opacity="0.75"/>
<rect x="767.80" y="416.9" width="3.9" height="18.8" fill="#f23645"/>
<rect x="774.78" y="421.6" width="1.1" height="42.3" fill="#f23645" opacity="0.75"/>
<rect x="773.38" y="436.1" width="3.9" height="19.9" fill="#f23645"/>
<rect x="780.36" y="445.6" width="1.1" height="48.9" fill="#f23645" opacity="0.75"/>
<rect x="778.96" y="456.0" width="3.9" height="24.1" fill="#f23645"/>
<rect x="785.94" y="472.9" width="1.1" height="47.0" fill="#f23645" opacity="0.75"/>
<rect x="784.54" y="478.6" width="3.9" height="28.2" fill="#f23645"/>
<rect x="791.51" y="491.2" width="1.1" height="31.0" fill="#089981" opacity="0.75"/>
<rect x="790.11" y="496.4" width="3.9" height="10.9" fill="#089981"/>
<rect x="797.09" y="477.6" width="1.1" height="26.3" fill="#089981" opacity="0.75"/>
<rect x="795.69" y="484.2" width="3.9" height="12.2" fill="#089981"/>
<rect x="802.67" y="480.4" width="1.1" height="26.3" fill="#f23645" opacity="0.75"/>
<rect x="801.27" y="483.8" width="3.9" height="16.4" fill="#f23645"/>
<rect x="808.24" y="480.1" width="1.1" height="35.2" fill="#f23645" opacity="0.75"/>
<rect x="806.84" y="499.8" width="3.9" height="9.8" fill="#f23645"/>
<rect x="813.82" y="462.2" width="1.1" height="78.4" fill="#089981" opacity="0.75"/>
<rect x="812.42" y="465.8" width="3.9" height="44.2" fill="#089981"/>
<rect x="819.40" y="456.0" width="1.1" height="56.8" fill="#f23645" opacity="0.75"/>
<rect x="818.00" y="465.8" width="3.9" height="35.7" fill="#f23645"/>
<rect x="824.98" y="490.8" width="1.1" height="60.6" fill="#f23645" opacity="0.75"/>
<rect x="823.57" y="500.2" width="3.9" height="30.1" fill="#f23645"/>
<rect x="830.55" y="530.3" width="1.1" height="64.1" fill="#f23645" opacity="0.75"/>
<rect x="829.15" y="530.3" width="3.9" height="57.3" fill="#f23645"/>
<rect x="836.13" y="558.1" width="1.1" height="28.6" fill="#089981" opacity="0.75"/>
<rect x="834.73" y="560.4" width="3.9" height="26.3" fill="#089981"/>
<rect x="841.71" y="504.9" width="1.1" height="61.5" fill="#089981" opacity="0.75"/>
<rect x="840.31" y="536.9" width="3.9" height="23.9" fill="#089981"/>
<rect x="847.28" y="529.0" width="1.1" height="28.0" fill="#f23645" opacity="0.75"/>
<rect x="845.88" y="536.9" width="3.9" height="20.1" fill="#f23645"/>
<rect x="852.86" y="546.3" width="1.1" height="113.9" fill="#f23645" opacity="0.75"/>
<rect x="851.46" y="555.7" width="3.9" height="95.1" fill="#f23645"/>
<rect x="858.44" y="584.8" width="1.1" height="86.2" fill="#089981" opacity="0.75"/>
<rect x="857.04" y="595.7" width="3.9" height="55.1" fill="#089981"/>
<rect x="864.01" y="580.5" width="1.1" height="48.5" fill="#f23645" opacity="0.75"/>
<rect x="862.61" y="595.7" width="3.9" height="17.9" fill="#f23645"/>
<rect x="869.59" y="559.4" width="1.1" height="55.1" fill="#089981" opacity="0.75"/>
<rect x="868.19" y="587.6" width="3.9" height="26.4" fill="#089981"/>
<rect x="875.17" y="567.0" width="1.1" height="20.6" fill="#089981" opacity="0.75"/>
<rect x="873.77" y="573.5" width="3.9" height="14.1" fill="#089981"/>
<rect x="880.75" y="548.5" width="1.1" height="40.3" fill="#f23645" opacity="0.75"/>
<rect x="879.34" y="573.5" width="3.9" height="14.1" fill="#f23645"/>
<rect x="886.32" y="549.1" width="1.1" height="41.0" fill="#089981" opacity="0.75"/>
<rect x="884.92" y="563.8" width="3.9" height="23.5" fill="#089981"/>
<rect x="891.90" y="547.8" width="1.1" height="21.0" fill="#089981" opacity="0.75"/>
<rect x="890.50" y="556.6" width="3.9" height="7.5" fill="#089981"/>
<rect x="897.48" y="522.8" width="1.1" height="34.8" fill="#089981" opacity="0.75"/>
<rect x="896.08" y="543.4" width="3.9" height="13.5" fill="#089981"/>
<rect x="903.05" y="520.5" width="1.1" height="23.9" fill="#089981" opacity="0.75"/>
<rect x="901.65" y="520.5" width="3.9" height="23.9" fill="#089981"/>
<rect x="908.63" y="511.1" width="1.1" height="29.5" fill="#f23645" opacity="0.75"/>
<rect x="907.23" y="520.5" width="3.9" height="14.5" fill="#f23645"/>
<rect x="914.21" y="528.4" width="1.1" height="24.4" fill="#089981" opacity="0.75"/>
<rect x="912.81" y="528.4" width="3.9" height="5.1" fill="#089981"/>
<rect x="919.78" y="524.3" width="1.1" height="13.0" fill="#f23645" opacity="0.75"/>
<rect x="918.38" y="529.0" width="3.9" height="7.3" fill="#f23645"/>
<rect x="925.36" y="533.1" width="1.1" height="9.0" fill="#089981" opacity="0.75"/>
<rect x="923.96" y="534.0" width="3.9" height="2.3" fill="#089981"/>
<rect x="930.94" y="533.1" width="1.1" height="19.7" fill="#f23645" opacity="0.75"/>
<rect x="929.54" y="535.9" width="3.9" height="12.8" fill="#f23645"/>
<rect x="936.51" y="528.0" width="1.1" height="24.3" fill="#089981" opacity="0.75"/>
<rect x="935.11" y="540.6" width="3.9" height="8.5" fill="#089981"/>
<rect x="942.09" y="527.8" width="1.1" height="32.0" fill="#f23645" opacity="0.75"/>
<rect x="940.69" y="540.6" width="3.9" height="16.9" fill="#f23645"/>
<rect x="947.67" y="505.8" width="1.1" height="62.1" fill="#089981" opacity="0.75"/>
<rect x="946.27" y="523.7" width="3.9" height="34.2" fill="#089981"/>
<rect x="953.25" y="494.5" width="1.1" height="38.9" fill="#089981" opacity="0.75"/>
<rect x="951.85" y="494.5" width="3.9" height="28.8" fill="#089981"/>
<rect x="958.82" y="490.2" width="1.1" height="23.1" fill="#f23645" opacity="0.75"/>
<rect x="957.42" y="495.1" width="3.9" height="12.6" fill="#f23645"/>
<rect x="964.40" y="495.9" width="1.1" height="13.7" fill="#089981" opacity="0.75"/>
<rect x="963.00" y="499.6" width="3.9" height="7.5" fill="#089981"/>
<rect x="969.98" y="497.4" width="1.1" height="16.9" fill="#f23645" opacity="0.75"/>
<rect x="968.58" y="499.6" width="3.9" height="12.8" fill="#f23645"/>
<rect x="975.55" y="508.6" width="1.1" height="30.1" fill="#f23645" opacity="0.75"/>
<rect x="974.15" y="512.4" width="3.9" height="2.4" fill="#f23645"/>
<rect x="981.13" y="462.8" width="1.1" height="55.5" fill="#089981" opacity="0.75"/>
<rect x="979.73" y="462.8" width="3.9" height="52.7" fill="#089981"/>
<rect x="986.71" y="447.1" width="1.1" height="15.6" fill="#089981" opacity="0.75"/>
<rect x="985.31" y="450.9" width="3.9" height="11.8" fill="#089981"/>
<rect x="992.28" y="445.8" width="1.1" height="19.4" fill="#f23645" opacity="0.75"/>
<rect x="990.88" y="450.9" width="3.9" height="11.8" fill="#f23645"/>
<rect x="997.86" y="452.4" width="1.1" height="17.3" fill="#089981" opacity="0.75"/>
<rect x="996.46" y="452.4" width="3.9" height="9.8" fill="#089981"/>
<rect x="1003.44" y="442.1" width="1.1" height="42.3" fill="#f23645" opacity="0.75"/>
<rect x="1002.04" y="452.0" width="3.9" height="9.8" fill="#f23645"/>
<rect x="1009.02" y="392.8" width="1.1" height="70.5" fill="#089981" opacity="0.75"/>
<rect x="1007.62" y="408.2" width="3.9" height="52.7" fill="#089981"/>
<rect x="1014.59" y="408.2" width="1.1" height="35.7" fill="#f23645" opacity="0.75"/>
<rect x="1013.19" y="408.2" width="3.9" height="26.3" fill="#f23645"/>
<rect x="1020.17" y="434.5" width="1.1" height="33.5" fill="#f23645" opacity="0.75"/>
<rect x="1018.77" y="434.5" width="3.9" height="33.5" fill="#f23645"/>
<rect x="1025.75" y="458.1" width="1.1" height="32.9" fill="#f23645" opacity="0.75"/>
<rect x="1024.35" y="466.9" width="3.9" height="20.7" fill="#f23645"/>
<rect x="1031.32" y="477.8" width="1.1" height="25.4" fill="#f23645" opacity="0.75"/>
<rect x="1029.92" y="487.2" width="3.9" height="9.4" fill="#f23645"/>
<rect x="1036.90" y="480.6" width="1.1" height="22.6" fill="#089981" opacity="0.75"/>
<rect x="1035.50" y="480.6" width="3.9" height="16.0" fill="#089981"/>
<rect x="1042.48" y="439.2" width="1.1" height="59.6" fill="#089981" opacity="0.75"/>
<rect x="1041.08" y="440.7" width="3.9" height="40.2" fill="#089981"/>
<rect x="1048.06" y="408.2" width="1.1" height="39.5" fill="#089981" opacity="0.75"/>
<rect x="1046.65" y="436.0" width="3.9" height="3.8" fill="#089981"/>
<rect x="1053.63" y="429.3" width="1.1" height="26.5" fill="#f23645" opacity="0.75"/>
<rect x="1052.23" y="434.9" width="3.9" height="13.7" fill="#f23645"/>
<rect x="1059.21" y="436.4" width="1.1" height="54.9" fill="#f23645" opacity="0.75"/>
<rect x="1057.81" y="450.5" width="3.9" height="37.6" fill="#f23645"/>
<rect x="1064.79" y="478.7" width="1.1" height="21.6" fill="#089981" opacity="0.75"/>
<rect x="1063.39" y="486.6" width="3.9" height="1.9" fill="#089981"/>
<rect x="1070.36" y="476.3" width="1.1" height="35.0" fill="#f23645" opacity="0.75"/>
<rect x="1068.96" y="486.6" width="3.9" height="14.3" fill="#f23645"/>
<rect x="1075.94" y="495.1" width="1.1" height="15.0" fill="#f23645" opacity="0.75"/>
<rect x="1074.54" y="500.4" width="3.9" height="5.6" fill="#f23645"/>
<rect x="1081.52" y="499.4" width="1.1" height="32.3" fill="#f23645" opacity="0.75"/>
<rect x="1080.12" y="505.6" width="3.9" height="1.3" fill="#f23645"/>
<rect x="1087.09" y="495.1" width="1.1" height="34.4" fill="#089981" opacity="0.75"/>
<rect x="1085.69" y="498.1" width="3.9" height="9.8" fill="#089981"/>
<rect x="1092.67" y="491.9" width="1.1" height="31.0" fill="#f23645" opacity="0.75"/>
<rect x="1091.27" y="497.5" width="3.9" height="23.9" fill="#f23645"/>
<rect x="1098.25" y="507.9" width="1.1" height="31.6" fill="#f23645" opacity="0.75"/>
<rect x="1096.85" y="522.6" width="3.9" height="10.7" fill="#f23645"/>
<rect x="1103.83" y="528.6" width="1.1" height="33.5" fill="#089981" opacity="0.75"/>
<rect x="1102.42" y="532.3" width="3.9" height="1.4" fill="#089981"/>
<rect x="1109.40" y="522.4" width="1.1" height="12.2" fill="#089981" opacity="0.75"/>
<rect x="1108.00" y="523.9" width="3.9" height="8.8" fill="#089981"/>
<rect x="1114.98" y="507.9" width="1.1" height="16.6" fill="#089981" opacity="0.75"/>
<rect x="1113.58" y="508.8" width="3.9" height="14.5" fill="#089981"/>
<rect x="1120.56" y="491.0" width="1.1" height="18.2" fill="#089981" opacity="0.75"/>
<rect x="1119.16" y="494.2" width="3.9" height="15.0" fill="#089981"/>
<rect x="1126.13" y="494.2" width="1.1" height="18.4" fill="#f23645" opacity="0.75"/>
<rect x="1124.73" y="494.2" width="3.9" height="18.4" fill="#f23645"/>
<rect x="1131.71" y="496.6" width="1.1" height="27.8" fill="#089981" opacity="0.75"/>
<rect x="1130.31" y="502.8" width="3.9" height="10.7" fill="#089981"/>
<rect x="1137.29" y="485.9" width="1.1" height="23.9" fill="#089981" opacity="0.75"/>
<rect x="1135.89" y="488.7" width="3.9" height="15.4" fill="#089981"/>
<rect x="1142.86" y="488.7" width="1.1" height="65.0" fill="#f23645" opacity="0.75"/>
<rect x="1141.46" y="488.7" width="3.9" height="27.7" fill="#f23645"/>
<rect x="1148.44" y="506.6" width="1.1" height="12.2" fill="#089981" opacity="0.75"/>
<rect x="1147.04" y="508.8" width="3.9" height="9.0" fill="#089981"/>
<rect x="1154.02" y="500.4" width="1.1" height="14.1" fill="#089981" opacity="0.75"/>
<rect x="1152.62" y="501.9" width="3.9" height="7.3" fill="#089981"/>
<rect x="1159.60" y="472.2" width="1.1" height="32.0" fill="#089981" opacity="0.75"/>
<rect x="1158.19" y="473.5" width="3.9" height="28.4" fill="#089981"/>
<rect x="1165.17" y="464.1" width="1.1" height="17.5" fill="#089981" opacity="0.75"/>
<rect x="1163.77" y="467.5" width="3.9" height="6.6" fill="#089981"/>
<rect x="1170.75" y="457.1" width="1.1" height="21.6" fill="#089981" opacity="0.75"/>
<rect x="1169.35" y="465.2" width="3.9" height="2.8" fill="#089981"/>
<rect x="1176.33" y="420.4" width="1.1" height="41.8" fill="#089981" opacity="0.75"/>
<rect x="1174.93" y="450.2" width="3.9" height="12.0" fill="#089981"/>
<rect x="1181.90" y="430.8" width="1.1" height="29.2" fill="#f23645" opacity="0.75"/>
<rect x="1180.50" y="449.0" width="3.9" height="1.2" fill="#f23645"/>
<rect x="1187.48" y="421.4" width="1.1" height="30.1" fill="#089981" opacity="0.75"/>
<rect x="1186.08" y="421.4" width="3.9" height="30.1" fill="#089981"/>
<rect x="1193.06" y="421.1" width="1.1" height="11.7" fill="#f23645" opacity="0.75"/>
<rect x="1191.66" y="421.1" width="3.9" height="2.8" fill="#f23645"/>
<rect x="1198.63" y="387.6" width="1.1" height="41.0" fill="#089981" opacity="0.75"/>
<rect x="1197.23" y="397.9" width="3.9" height="26.3" fill="#089981"/>
<rect x="1204.21" y="381.0" width="1.1" height="25.4" fill="#089981" opacity="0.75"/>
<rect x="1202.81" y="390.6" width="3.9" height="7.5" fill="#089981"/>
<rect x="1209.79" y="386.6" width="1.1" height="17.1" fill="#f23645" opacity="0.75"/>
<rect x="1208.39" y="388.5" width="3.9" height="10.5" fill="#f23645"/>
<rect x="1215.37" y="381.6" width="1.1" height="29.2" fill="#089981" opacity="0.75"/>
<rect x="1213.97" y="385.7" width="3.9" height="13.2" fill="#089981"/>
<rect x="1220.94" y="346.2" width="1.1" height="41.4" fill="#089981" opacity="0.75"/>
<rect x="1219.54" y="351.5" width="3.9" height="33.3" fill="#089981"/>
<rect x="1226.52" y="351.1" width="1.1" height="11.7" fill="#f23645" opacity="0.75"/>
<rect x="1225.12" y="351.1" width="3.9" height="10.7" fill="#f23645"/>
<rect x="1232.10" y="323.3" width="1.1" height="39.5" fill="#089981" opacity="0.75"/>
<rect x="1230.70" y="359.9" width="3.9" height="1.5" fill="#089981"/>
<rect x="1237.67" y="354.3" width="1.1" height="12.8" fill="#f23645" opacity="0.75"/>
<rect x="1236.27" y="359.6" width="3.9" height="3.2" fill="#f23645"/>
<rect x="1243.25" y="340.2" width="1.1" height="24.4" fill="#089981" opacity="0.75"/>
<rect x="1241.85" y="361.8" width="3.9" height="1.3" fill="#089981"/>
<rect x="1248.83" y="347.7" width="1.1" height="15.0" fill="#089981" opacity="0.75"/>
<rect x="1247.43" y="350.2" width="3.9" height="12.2" fill="#089981"/>
<rect x="1254.40" y="334.5" width="1.1" height="16.9" fill="#089981" opacity="0.75"/>
<rect x="1253.00" y="337.0" width="3.9" height="13.9" fill="#089981"/>
<rect x="1259.98" y="318.0" width="1.1" height="28.4" fill="#089981" opacity="0.75"/>
<rect x="1258.58" y="328.3" width="3.9" height="9.6" fill="#089981"/>
<rect x="1265.56" y="321.4" width="1.1" height="16.9" fill="#f23645" opacity="0.75"/>
<rect x="1264.16" y="328.3" width="3.9" height="6.2" fill="#f23645"/>
<rect x="1271.14" y="328.3" width="1.1" height="17.5" fill="#f23645" opacity="0.75"/>
<rect x="1269.74" y="334.2" width="3.9" height="10.7" fill="#f23645"/>
<rect x="1276.71" y="337.7" width="1.1" height="23.1" fill="#f23645" opacity="0.75"/>
<rect x="1275.31" y="344.5" width="3.9" height="8.3" fill="#f23645"/>
<rect x="1282.29" y="318.2" width="1.1" height="35.2" fill="#089981" opacity="0.75"/>
<rect x="1280.89" y="328.9" width="3.9" height="23.9" fill="#089981"/>
<rect x="1287.87" y="312.3" width="1.1" height="21.6" fill="#f23645" opacity="0.75"/>
<rect x="1286.47" y="328.0" width="3.9" height="1.3" fill="#f23645"/>
<rect x="1293.44" y="308.8" width="1.1" height="35.2" fill="#089981" opacity="0.75"/>
<rect x="1292.04" y="327.6" width="3.9" height="1.3" fill="#089981"/>
<rect x="1299.02" y="319.5" width="1.1" height="31.0" fill="#f23645" opacity="0.75"/>
<rect x="1297.62" y="328.5" width="3.9" height="15.4" fill="#f23645"/>
<rect x="1304.60" y="333.6" width="1.1" height="22.2" fill="#089981" opacity="0.75"/>
<rect x="1303.20" y="342.1" width="3.9" height="1.3" fill="#089981"/>
<rect x="1310.17" y="330.4" width="1.1" height="29.0" fill="#089981" opacity="0.75"/>
<rect x="1308.77" y="341.1" width="3.9" height="2.3" fill="#089981"/>
<rect x="1315.75" y="295.0" width="1.1" height="46.5" fill="#089981" opacity="0.75"/>
<rect x="1314.35" y="297.3" width="3.9" height="44.2" fill="#089981"/>
<rect x="1321.33" y="294.1" width="1.1" height="47.6" fill="#f23645" opacity="0.75"/>
<rect x="1319.93" y="296.6" width="3.9" height="45.1" fill="#f23645"/>
<rect x="1326.91" y="325.1" width="1.1" height="18.2" fill="#089981" opacity="0.75"/>
<rect x="1325.51" y="337.0" width="3.9" height="4.7" fill="#089981"/>
<rect x="1332.48" y="325.1" width="1.1" height="27.8" fill="#f23645" opacity="0.75"/>
<rect x="1331.08" y="337.0" width="3.9" height="4.7" fill="#f23645"/>
<rect x="1338.06" y="331.7" width="1.1" height="16.0" fill="#f23645" opacity="0.75"/>
<rect x="1336.66" y="341.7" width="3.9" height="5.1" fill="#f23645"/>
<rect x="1343.64" y="317.2" width="1.1" height="34.2" fill="#089981" opacity="0.75"/>
<rect x="1342.24" y="321.9" width="3.9" height="23.9" fill="#089981"/>
<rect x="1349.21" y="313.5" width="1.1" height="19.7" fill="#f23645" opacity="0.75"/>
<rect x="1347.81" y="321.4" width="3.9" height="10.3" fill="#f23645"/>
<rect x="1354.79" y="299.7" width="1.1" height="57.4" fill="#f23645" opacity="0.75"/>
<rect x="1353.39" y="330.8" width="3.9" height="7.9" fill="#f23645"/>
<rect x="1360.37" y="313.5" width="1.1" height="29.5" fill="#089981" opacity="0.75"/>
<rect x="1358.97" y="319.1" width="3.9" height="18.6" fill="#089981"/>
<rect x="1365.94" y="306.3" width="1.1" height="69.6" fill="#f23645" opacity="0.75"/>
<rect x="1364.54" y="319.1" width="3.9" height="45.5" fill="#f23645"/>
<rect x="1371.52" y="349.6" width="1.1" height="33.5" fill="#089981" opacity="0.75"/>
<rect x="1370.12" y="357.1" width="3.9" height="9.8" fill="#089981"/>
<rect x="1377.10" y="340.7" width="1.1" height="19.2" fill="#089981" opacity="0.75"/>
<rect x="1375.70" y="350.2" width="3.9" height="8.3" fill="#089981"/>
<rect x="1382.68" y="340.2" width="1.1" height="20.3" fill="#089981" opacity="0.75"/>
<rect x="1381.28" y="346.8" width="3.9" height="3.2" fill="#089981"/>
<rect x="1388.25" y="335.5" width="1.1" height="13.7" fill="#089981" opacity="0.75"/>
<rect x="1386.85" y="340.7" width="3.9" height="6.6" fill="#089981"/>
<rect x="1393.83" y="318.2" width="1.1" height="27.3" fill="#089981" opacity="0.75"/>
<rect x="1392.43" y="323.3" width="3.9" height="17.5" fill="#089981"/>
</g>
<polyline points="563.2,274.5 607.7,587.9 685.7,325.9 853.2,676.6 997.9,390.5 1098.6,564.5 1249.5,328.6" fill="none" stroke="#000" stroke-width="2" stroke-linejoin="round" stroke-linecap="round"/>
<line x1="567.0" y1="301.3" x2="1185.1" y2="429.2" stroke="#000" stroke-width="2" stroke-dasharray="2 3.4"/>
<path d="M1182.4,427.4 L1171,88.4 M1156.6,104.2 L1171,88.4 L1186.4,102.9" fill="none" stroke="#000" stroke-width="2" stroke-linecap="round" stroke-linejoin="miter"/>
<line x1="1164.7" y1="86.4" x2="1522" y2="86.4" stroke="#2962ff" stroke-width="2"/>
<text x="1096.4" y="91.1" font-size="13.2" font-weight="bold" fill="#2962ff" textLength="41.6" lengthAdjust="spacingAndGlyphs">Target</text>
<path d="M1417,325.5 L1417,87.5" fill="none" stroke="#f23645" stroke-width="1.9"/><path d="M1406.3,97.5 L1417,87.3 L1427.3,97.5" fill="none" stroke="#f23645" stroke-width="1.4" stroke-linecap="round" stroke-linejoin="round"/>
<rect x="567.2" y="594.2" width="80.4" height="18.8" rx="3.5" fill="#000"/>
<text x="571.4000000000001" y="607.8000000000001" font-size="12" fill="#fff" textLength="72.2" lengthAdjust="spacingAndGlyphs">Left Shoulder</text>
<rect x="835" y="683" width="36.6" height="18.6" rx="3.5" fill="#000"/>
<text x="839.2" y="696.5" font-size="12" fill="#fff" textLength="28.4" lengthAdjust="spacingAndGlyphs">Head</text>
<rect x="1054.1" y="570.9" width="88.5" height="18.8" rx="3.5" fill="#000"/>
<text x="1058.3" y="584.5" font-size="12" fill="#fff" textLength="80.3" lengthAdjust="spacingAndGlyphs">Right Shoulder</text>
<filter id="sh" x="-10%" y="-30%" width="120%" height="170%"><feGaussianBlur stdDeviation="1.6"/></filter>
<rect x="1335" y="55.5" width="162.5" height="23.5" rx="3" fill="#5b6b8c" opacity="0.28" filter="url(#sh)"/>
<rect x="1335" y="54.5" width="162.5" height="23.5" rx="3" fill="#b9c9e4"/>
<text x="1416.3" y="70.6" font-size="12" fill="#131722" text-anchor="middle" letter-spacing="0.45">0.37194 (14.03%) 37,194</text>
<g font-size="12" fill="#131722">
<text x="1531" y="75.5" letter-spacing="0.35">3.05000</text>
<text x="1531" y="105.5" letter-spacing="0.35">3.00000</text>
<text x="1531" y="135.9" letter-spacing="0.35">2.95000</text>
<text x="1531" y="166.9" letter-spacing="0.35">2.90000</text>
<text x="1531" y="198.4" letter-spacing="0.35">2.85000</text>
<text x="1531" y="230.5" letter-spacing="0.35">2.80000</text>
<text x="1531" y="263.1" letter-spacing="0.35">2.75000</text>
<text x="1531" y="296.4" letter-spacing="0.35">2.70000</text>
<text x="1531" y="364.7" letter-spacing="0.35">2.60000</text>
<text x="1531" y="399.9" letter-spacing="0.35">2.55000</text>
<text x="1531" y="443.1" letter-spacing="0.35">2.49000</text>
<text x="1531" y="472.4" letter-spacing="0.35">2.45000</text>
<text x="1531" y="502.3" letter-spacing="0.35">2.41000</text>
<text x="1531" y="532.6" letter-spacing="0.35">2.37000</text>
<text x="1531" y="563.4" letter-spacing="0.35">2.33000</text>
<text x="1531" y="594.8" letter-spacing="0.35">2.29000</text>
<text x="1531" y="626.7" letter-spacing="0.35">2.25000</text>
<text x="1531" y="659.2" letter-spacing="0.35">2.21000</text>
<text x="1531" y="692.3" letter-spacing="0.35">2.17000</text>
<text x="1531" y="721.8" letter-spacing="0.35">2.13500</text>
<text x="1531" y="751.7" letter-spacing="0.35">2.10000</text>
<text x="1531" y="781.3" letter-spacing="0.35">2.06600</text>
</g>
<path d="M1522,78.7 H1579.5 Q1581.5,78.7 1581.5,80.7 V92.3 Q1581.5,94.3 1579.5,94.3 H1522 Z" fill="#2962ff"/>
<text x="1531" y="90.8" font-size="12" fill="#fff" letter-spacing="0.35">3.02479</text>
<path d="M1522,315.6 H1583 Q1585,315.6 1585,317.6 V342.8 Q1585,344.8 1583,344.8 H1522 Z" fill="#089981"/>
<text x="1531" y="327.9" font-size="12" fill="#fff" letter-spacing="0.35">2.65377</text>
<text x="1531" y="340.9" font-size="12" fill="#fff" letter-spacing="0.35">01:18:46</text>
<path d="M1522,364 H1579.5 Q1581.5,364 1581.5,366 V377.3 Q1581.5,379.3 1579.5,379.3 H1522 Z" fill="#800080"/>
<text x="1531" y="376" font-size="12" fill="#fff" letter-spacing="0.35">2.58478</text>
<path d="M1522,380 H1579.5 Q1581.5,380 1581.5,382 V393.5 Q1581.5,395.5 1579.5,395.5 H1522 Z" fill="#ffff00"/>
<text x="1531" y="392" font-size="12" fill="#000" letter-spacing="0.35">2.56896</text>
<path d="M1522,439.5 H1579.5 Q1581.5,439.5 1581.5,441.5 V453.2 Q1581.5,455.2 1579.5,455.2 H1522 Z" fill="#800000"/>
<text x="1531" y="451.7" font-size="12" fill="#fff" letter-spacing="0.35">2.47905</text>
<rect x="1525" y="29.5" width="63" height="24.5" rx="4" fill="#fff" stroke="#f3f3f4" stroke-width="1.2"/>
<text x="1533" y="46.3" font-size="12" fill="#131722" letter-spacing="0.3">USD</text>
<g font-size="12" fill="#131722" text-anchor="middle">
<text x="128.4" y="810.5" font-weight="bold">Oct</text>
<text x="217.6" y="810.5">3</text>
<text x="306.9" y="810.5">5</text>
<text x="396.1" y="810.5">7</text>
<text x="485.3" y="810.5">9</text>
<text x="574.6" y="810.5">11</text>
<text x="663.8" y="810.5">13</text>
<text x="753.0" y="810.5">15</text>
<text x="842.3" y="810.5">17</text>
<text x="931.5" y="810.5">19</text>
<text x="1020.7" y="810.5">21</text>
<text x="1110.0" y="810.5">23</text>
<text x="1199.2" y="810.5">25</text>
<text x="1288.4" y="810.5">27</text>
<text x="1377.6" y="810.5">29</text>
</g>
<clipPath id="tc"><rect x="10" y="793" width="1512" height="25"/></clipPath>
<text x="1511.5" y="810.5" font-size="12" font-weight="bold" fill="#131722" text-anchor="middle" clip-path="url(#tc)">Nov</text>
<text x="10" y="19.3" font-size="12" fill="#131722" textLength="381.2" lengthAdjust="spacingAndGlyphs">kanguhalubale created with TradingView.com, Oct 29, 2025 10:41 UTC</text>
<text x="17.5" y="45.2" font-size="12" fill="#131722" textLength="171.5" lengthAdjust="spacingAndGlyphs">XRP / U.S. Dollar · 3h · Bitstamp</text>
<text x="196.4" y="45.2" font-size="12" fill="#131722" textLength="9.2" lengthAdjust="spacingAndGlyphs">O</text>
<text x="205.8" y="45.2" font-size="12" fill="#089981" textLength="44.2" lengthAdjust="spacingAndGlyphs">2.62832</text>
<text x="257.6" y="45.2" font-size="12" fill="#131722" textLength="8.4" lengthAdjust="spacingAndGlyphs">H</text>
<text x="266.2" y="45.2" font-size="12" fill="#089981" textLength="43.3" lengthAdjust="spacingAndGlyphs">2.66149</text>
<text x="317.3" y="45.2" font-size="12" fill="#131722" textLength="6.2" lengthAdjust="spacingAndGlyphs">L</text>
<text x="323.2" y="45.2" font-size="12" fill="#089981" textLength="43.1" lengthAdjust="spacingAndGlyphs">2.62185</text>
<text x="374.1" y="45.2" font-size="12" fill="#131722" textLength="8.6" lengthAdjust="spacingAndGlyphs">C</text>
<text x="382.4" y="45.2" font-size="12" fill="#089981" textLength="43.4" lengthAdjust="spacingAndGlyphs">2.65377</text>
<text x="433.6" y="45.2" font-size="12" fill="#089981" textLength="105.9" lengthAdjust="spacingAndGlyphs">+0.02569 (+0.98%)</text>
<text x="17.5" y="61.4" font-size="12" fill="#131722" textLength="216.1" lengthAdjust="spacingAndGlyphs">SMAs (50, close, 100, close, 200, close)</text>
<text x="242" y="61.4" font-size="12" fill="#ffff00" textLength="45" lengthAdjust="spacingAndGlyphs">2.56896</text>
<text x="294.5" y="61.4" font-size="12" fill="#800000" textLength="44.3" lengthAdjust="spacingAndGlyphs">2.47905</text>
<text x="346.5" y="61.4" font-size="12" fill="#800080" textLength="44.3" lengthAdjust="spacingAndGlyphs">2.58478</text>
<clipPath id="fc1"><circle cx="1411.1" cy="779.4" r="8.1"/></clipPath>
<circle cx="1411.1" cy="779.4" r="10.1" fill="#fff" stroke="#f23645" stroke-width="1.6"/>
<g clip-path="url(#fc1)">
<rect x="1402.1" y="770.4" width="18" height="18" fill="#fff"/>
<rect x="1402.1" y="771.3" width="18" height="2.6" fill="#f0474f"/>
<rect x="1402.1" y="777.6" width="18" height="3.3" fill="#f0474f"/>
<rect x="1402.1" y="783.7" width="18" height="3.9" fill="#f0474f"/>
<rect x="1402.1" y="770.4" width="10.7" height="10.5" fill="#2f8cf0"/>
<rect x="1404.8" y="773.2" width="1.1" height="1.1" fill="#fff"/>
<rect x="1404.8" y="775.7" width="1.1" height="1.1" fill="#fff"/>
<rect x="1404.8" y="778.2" width="1.1" height="1.1" fill="#fff"/>
<rect x="1407.4" y="773.2" width="1.1" height="1.1" fill="#fff"/>
<rect x="1407.4" y="775.7" width="1.1" height="1.1" fill="#fff"/>
<rect x="1407.4" y="778.2" width="1.1" height="1.1" fill="#fff"/>
<rect x="1410.0" y="773.2" width="1.1" height="1.1" fill="#fff"/>
<rect x="1410.0" y="775.7" width="1.1" height="1.1" fill="#fff"/>
<rect x="1410.0" y="778.2" width="1.1" height="1.1" fill="#fff"/>
</g>
<clipPath id="fc2"><circle cx="1444.4" cy="779.4" r="8.1"/></clipPath>
<circle cx="1444.4" cy="779.4" r="10.1" fill="#fff" stroke="#f23645" stroke-width="1.6"/>
<g clip-path="url(#fc2)">
<rect x="1435.4" y="770.4" width="18" height="18" fill="#fff"/>
<rect x="1435.4" y="771.3" width="18" height="2.6" fill="#f0474f"/>
<rect x="1435.4" y="777.6" width="18" height="3.3" fill="#f0474f"/>
<rect x="1435.4" y="783.7" width="18" height="3.9" fill="#f0474f"/>
<rect x="1435.4" y="770.4" width="10.7" height="10.5" fill="#2f8cf0"/>
<rect x="1438.1" y="773.2" width="1.1" height="1.1" fill="#fff"/>
<rect x="1438.1" y="775.7" width="1.1" height="1.1" fill="#fff"/>
<rect x="1438.1" y="778.2" width="1.1" height="1.1" fill="#fff"/>
<rect x="1440.7" y="773.2" width="1.1" height="1.1" fill="#fff"/>
<rect x="1440.7" y="775.7" width="1.1" height="1.1" fill="#fff"/>
<rect x="1440.7" y="778.2" width="1.1" height="1.1" fill="#fff"/>
<rect x="1443.3" y="773.2" width="1.1" height="1.1" fill="#fff"/>
<rect x="1443.3" y="775.7" width="1.1" height="1.1" fill="#fff"/>
<rect x="1443.3" y="778.2" width="1.1" height="1.1" fill="#fff"/>
</g>
<clipPath id="fc3"><circle cx="1489.4" cy="779.4" r="8.1"/></clipPath>
<circle cx="1489.4" cy="779.4" r="10.1" fill="#fff" stroke="#f23645" stroke-width="1.6"/>
<g clip-path="url(#fc3)">
<rect x="1480.4" y="770.4" width="18" height="18" fill="#fff"/>
<rect x="1480.4" y="771.3" width="18" height="2.6" fill="#f0474f"/>
<rect x="1480.4" y="777.6" width="18" height="3.3" fill="#f0474f"/>
<rect x="1480.4" y="783.7" width="18" height="3.9" fill="#f0474f"/>
<rect x="1480.4" y="770.4" width="10.7" height="10.5" fill="#2f8cf0"/>
<rect x="1483.1" y="773.2" width="1.1" height="1.1" fill="#fff"/>
<rect x="1483.1" y="775.7" width="1.1" height="1.1" fill="#fff"/>
<rect x="1483.1" y="778.2" width="1.1" height="1.1" fill="#fff"/>
<rect x="1485.7" y="773.2" width="1.1" height="1.1" fill="#fff"/>
<rect x="1485.7" y="775.7" width="1.1" height="1.1" fill="#fff"/>
<rect x="1485.7" y="778.2" width="1.1" height="1.1" fill="#fff"/>
<rect x="1488.3" y="773.2" width="1.1" height="1.1" fill="#fff"/>
<rect x="1488.3" y="775.7" width="1.1" height="1.1" fill="#fff"/>
<rect x="1488.3" y="778.2" width="1.1" height="1.1" fill="#fff"/>
</g>
<g fill="none" stroke="#9c27b0" stroke-width="1.5" stroke-linecap="round">
<path d="M1385.3,776.4 A8.3,8.3 0 0 1 1398.9,771.6"/>
<path d="M1401.8,783.4 A8.3,8.3 0 0 1 1387.6,786.3"/>
</g>
<path d="M1396.9,775.2 L1390.3,780.4 L1393.7,780.4 L1391.3,785 L1398.2,778.8 L1394.8,778.8 Z" fill="#9c27b0" stroke="#9c27b0" stroke-width="0.5" stroke-linejoin="round"/>
<path d="M1384,778.6 Q1384.7,782.5 1388.7,783.2 Q1384.7,783.9 1384,787.8 Q1383.3,783.9 1379.3,783.2 Q1383.3,782.5 1384,778.6 Z" fill="#7c4dff" stroke="#7c4dff" stroke-width="0.6" stroke-linejoin="round"/>
<circle cx="1400.6" cy="772.9" r="2.4" fill="#f23645"/>
<g fill="#131722">
<path d="M11.6,840.7 H23.4 V854.5 H16.9 V846.6 H11.6 Z"/>
<circle cx="27.75" cy="843.3" r="2.5"/>
<path d="M32.75,840.7 H39.75 L35.4,854.5 H28.1 Z"/>
<text x="47.1" y="854.5" font-size="19.2" font-weight="bold" textLength="115.4" lengthAdjust="spacingAndGlyphs">TradingView</text>
</g>
</svg></body></html>
